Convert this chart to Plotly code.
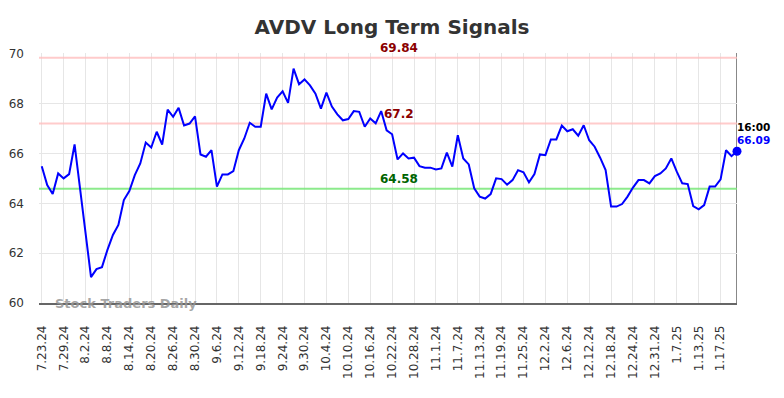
import plotly.graph_objects as go

title_text = "AVDV Long Term Signals"

values = [
    65.49, 64.73, 64.37, 65.20, 65.00, 65.17, 66.36, 64.55, 62.93, 61.04,
    61.36, 61.44, 62.13, 62.73, 63.13, 64.13, 64.49, 65.13, 65.60, 66.44,
    66.24, 66.87, 66.36, 67.76, 67.47, 67.83, 67.12, 67.20, 67.49, 65.96,
    65.87, 66.13, 64.67, 65.16, 65.16, 65.29, 66.13, 66.60, 67.23, 67.07,
    67.07, 68.40, 67.77, 68.24, 68.49, 68.03, 69.40, 68.78, 68.97, 68.73,
    68.40, 67.80, 68.44, 67.88, 67.57, 67.33, 67.38, 67.70, 67.67, 67.07,
    67.40, 67.21, 67.70, 66.93, 66.77, 65.76, 66.00, 65.80, 65.83, 65.49,
    65.43, 65.43, 65.36, 65.40, 66.03, 65.47, 66.73, 65.80, 65.56, 64.60,
    64.27, 64.19, 64.37, 65.00, 64.97, 64.75, 64.93, 65.33, 65.24, 64.84,
    65.17, 65.96, 65.93, 66.56, 66.56, 67.12, 66.89, 66.97, 66.71, 67.13,
    66.53, 66.27, 65.83, 65.33, 63.87, 63.87, 63.97, 64.27, 64.63, 64.93,
    64.93, 64.80, 65.09, 65.20, 65.40, 65.80, 65.27, 64.80, 64.77, 63.89,
    63.76, 63.93, 64.67, 64.67, 64.96, 66.13, 65.89, 66.09,
]

tick_labels = [
    "7.23.24", "7.29.24", "8.2.24", "8.8.24", "8.14.24", "8.20.24", "8.26.24",
    "8.30.24", "9.6.24", "9.12.24", "9.18.24", "9.24.24", "9.30.24", "10.4.24",
    "10.10.24", "10.16.24", "10.22.24", "10.28.24", "11.1.24", "11.7.24",
    "11.13.24", "11.19.24", "11.25.24", "12.2.24", "12.6.24", "12.12.24",
    "12.18.24", "12.24.24", "12.31.24", "1.7.25", "1.13.25", "1.17.25",
]
tick_step = 4

upper_level = 69.84
mid_level = 67.2
lower_level = 64.58
last_time = "16:00"

x = list(range(len(values)))
tickvals = [i * tick_step for i in range(len(tick_labels))]
last_i = x[-1]
last_v = values[-1]

FONT = "DejaVu Sans"

fig = go.Figure()

for lvl, col in [(upper_level, "rgba(255,190,190,0.8)"),
                 (mid_level, "rgba(255,190,190,0.8)"),
                 (lower_level, "rgba(120,230,120,0.85)")]:
    fig.add_trace(go.Scatter(x=[-0.5, last_i], y=[lvl, lvl], mode="lines",
                             line=dict(color=col, width=2),
                             hoverinfo="skip", showlegend=False))

fig.add_trace(go.Scatter(x=x, y=values, mode="lines",
                         line=dict(color="#0000ff", width=2),
                         showlegend=False))
fig.add_trace(go.Scatter(x=[last_i], y=[last_v], mode="markers",
                         marker=dict(color="#0000ff", size=9),
                         showlegend=False, cliponaxis=False))

label_x = 65.3
for lvl, txt, col in [(upper_level, f"{upper_level:.2f}", "#8b0000"),
                      (mid_level, f"{mid_level:g}", "#8b0000"),
                      (lower_level, f"{lower_level:.2f}", "#006400")]:
    fig.add_annotation(x=label_x, y=lvl, text=f"<b>{txt}</b>", showarrow=False,
                       yanchor="bottom", xanchor="center", yshift=1,
                       font=dict(family=FONT, size=12, color=col))

fig.add_annotation(x=last_i, y=last_v, text=f"<b>{last_time}</b>", showarrow=False,
                   xanchor="left", yanchor="middle", xshift=-2, yshift=24,
                   font=dict(family=FONT, size=10.5, color="#000000"))
fig.add_annotation(x=last_i, y=last_v, text=f"<b>{last_v:.2f}</b>", showarrow=False,
                   xanchor="left", yanchor="middle", xshift=-2, yshift=11,
                   font=dict(family=FONT, size=10.5, color="#0000ff"))

fig.add_annotation(xref="paper", yref="paper", x=0.02, y=0.0,
                   text="<b>Stock Traders Daily</b>", showarrow=False,
                   xanchor="left", yanchor="middle",
                   font=dict(family=FONT, size=13, color="rgba(150,150,150,0.85)"))

fig.add_shape(type="line", xref="x", yref="paper", x0=last_i, x1=last_i,
              y0=0, y1=1, line=dict(color="#888888", width=2), layer="between")

fig.update_layout(
    template="none",
    width=784, height=398,
    margin=dict(l=39, r=47, t=53, b=95, autoexpand=False),
    paper_bgcolor="white", plot_bgcolor="white",
    title=dict(text=f"<b>{title_text}</b>", x=0.5, xanchor="center",
               y=0.932, yanchor="middle",
               font=dict(family=FONT, size=20, color="#333333")),
    font=dict(family=FONT, color="#333333"),
)
fig.update_xaxes(range=[-0.5, last_i], tickmode="array", tickvals=tickvals,
                 ticktext=tick_labels, tickangle=-90, automargin=False,
                 tickfont=dict(family=FONT, size=12, color="#333333"),
                 showgrid=True, gridcolor="#e6e6e6", gridwidth=1,
                 showline=True, linecolor="#666666", linewidth=1.5,
                 zeroline=False, ticks="", ticklabelstandoff=16)
fig.update_yaxes(range=[60, 70.03], tickmode="array", tickvals=[60, 62, 64, 66, 68, 70],
                 automargin=False,
                 tickfont=dict(family=FONT, size=12, color="#333333"),
                 showgrid=True, gridcolor="#e6e6e6", gridwidth=1,
                 zeroline=False, ticks="", ticklabelstandoff=14)

fig.write_html("out.html", config={"displayModeBar": False},
               post_script="document.body.style.margin='0';document.body.style.overflow='hidden';")
